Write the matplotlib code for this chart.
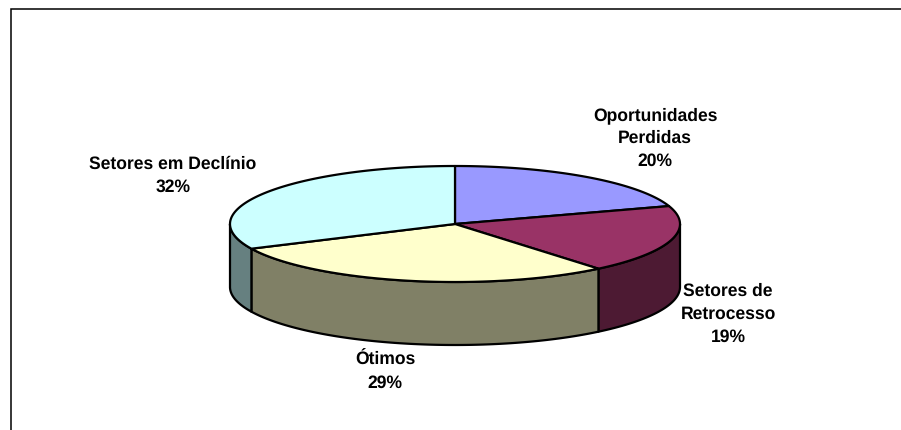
import numpy as np
import matplotlib
matplotlib.use("Agg")
import matplotlib.pyplot as plt
from matplotlib.patches import Polygon

categories = ["Oportunidades\nPerdidas", "Setores de\nRetrocesso", "Ótimos", "Setores em Declínio"]
values = [20, 19, 29, 32]
top_colors = ["#9999FF", "#993366", "#FFFFCC", "#CCFFFF"]
side_colors = ["#5C5C99", "#4D1A33", "#808066", "#668080"]
label_xy = [(655, 138.5), (728, 314), (385, 372), (173, 176)]

W, H = 901, 430
cx, cy, rx, ry, depth = 455, 224, 225, 58, 63
LW = 1.6

plt.rcParams["font.family"] = "Liberation Sans"
plt.rcParams["text.hinting"] = "no_hinting"
plt.rcParams["text.hinting_factor"] = 8

fig = plt.figure(figsize=(W / 100, H / 100), dpi=100)
ax = fig.add_axes([0, 0, 1, 1])
ax.set_xlim(0, W)
ax.set_ylim(H, 0)
ax.axis("off")

ax.plot([10.5, 10.5, 901], [430, 8.5, 8.5], color="black", lw=1.1, solid_joinstyle="miter")


def rim(a0, a1, n=120):
    t = np.radians(np.linspace(a0, a1, n))
    return cx + rx * np.sin(t), cy - ry * np.cos(t)


fractions = np.array(values, dtype=float) / sum(values)
edges = np.concatenate([[0], np.cumsum(fractions)]) * 360

# Side walls: only the front half of the rim (90..270 degrees from top, clockwise)
for i in range(len(values)):
    a0, a1 = max(edges[i], 90), min(edges[i + 1], 270)
    if a1 <= a0:
        continue
    x, y = rim(a0, a1)
    pts = np.column_stack([np.r_[x, x[::-1]], np.r_[y, y[::-1] + depth]])
    ax.add_patch(Polygon(pts, closed=True, fc=side_colors[i], ec="black", lw=LW, joinstyle="round", zorder=2))

# Top faces
for i in range(len(values)):
    x, y = rim(edges[i], edges[i + 1])
    pts = np.column_stack([np.r_[cx, x], np.r_[cy, y]])
    ax.add_patch(Polygon(pts, closed=True, fc=top_colors[i], ec="black", lw=LW, joinstyle="round", zorder=3))

for cat, val, (lx, ly) in zip(categories, values, label_xy):
    ax.text(lx, ly, f"{cat}\n{val}%", ha="center", va="center", fontsize=12.65,
            fontweight="bold", family="Liberation Sans", color="black", linespacing=1.47)

fig.savefig("out.png", dpi=100)
